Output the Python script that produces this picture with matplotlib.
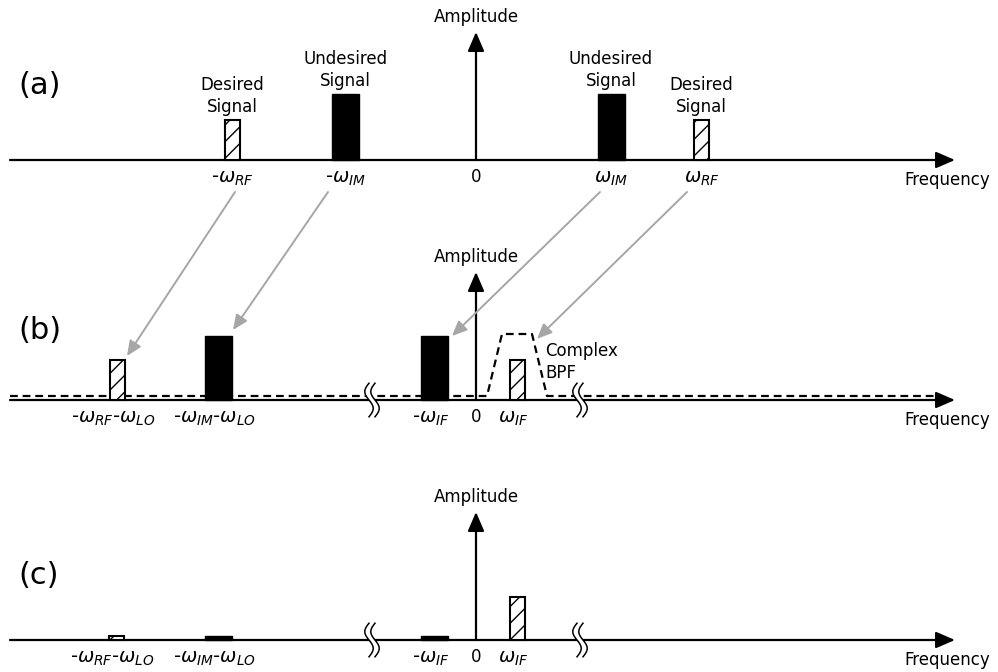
import numpy as np
import matplotlib.pyplot as plt
from matplotlib.patches import ConnectionPatch

plt.rcParams['font.family'] = ['DejaVu Sans']
plt.rcParams['mathtext.fontset'] = 'dejavusans'
plt.rcParams['hatch.linewidth'] = 1.0

# ---- spectrum data (frequency in arbitrary units, amplitude relative to desired signal) ----
# (a) RF input spectrum
a_freq = [-24.35, -13.05, 13.5, 22.55]
a_amp = [1.0, 1.65, 1.65, 1.0]
a_kind = ['desired', 'image', 'image', 'desired']
a_labels = ['-$\\omega_{RF}$', '-$\\omega_{IM}$', '$\\omega_{IM}$', '$\\omega_{RF}$']

# (b) after complex down-conversion
b_freq = [-35.9, -25.75, -4.15, 4.1]
b_amp = [1.0, 1.6, 1.6, 1.0]
b_kind = ['desired', 'image', 'image', 'desired']
b_labels = ['-$\\omega_{RF}$-$\\omega_{LO}$', '-$\\omega_{IM}$-$\\omega_{LO}$',
            '-$\\omega_{IF}$', '$\\omega_{IF}$']

# complex band-pass filter response
bpf_freq = [-46.6, 1.1, 2.6, 5.6, 7.1, 46.1]
bpf_gain = [0.1, 0.1, 1.65, 1.65, 0.1, 0.1]

# (c) after complex band-pass filtering
c_freq = [-36.0, -25.8, -4.15, 4.15]
c_amp = [0.1, 0.1, 0.1, 1.08]
c_kind = ['desired', 'image', 'image', 'desired']
c_labels = b_labels

# axis breaks
break_freq = [-10.4, 10.4]

W, H = 998, 672
fig = plt.figure(figsize=(W / 100, H / 100), dpi=100)

XPX, YPX = 10.0, 40.0     # pixels per frequency unit / amplitude unit
X0 = 476                  # pixel column of zero frequency


def panel(top, bottom, base):
    ax = fig.add_axes([0, 1 - bottom / H, 1, (bottom - top) / H])
    ax.set_xlim(-X0 / XPX, (W - X0) / XPX)
    ax.set_ylim((base - bottom) / YPX, (base - top) / YPX)
    ax.axis('off')
    return ax


ax_a = panel(0, 215, 160)
ax_b = panel(215, 455, 400)
ax_c = panel(455, 672, 640)

bar_style = {
    'desired': dict(width=1.5, color='white', edgecolor='black', hatch='//', linewidth=1.5),
    'image': dict(width=2.7, color='black', edgecolor='black', linewidth=1.0),
}

axis_kw = dict(arrowstyle='-|>,head_length=0.58,head_width=0.25',
               color='black', lw=1.6, shrinkA=0, shrinkB=0, mutation_scale=20)


def draw_axes(ax, amp_top, tag, tag_y):
    ax.annotate('', xy=(47.9, 0), xytext=(-46.6, 0), arrowprops=axis_kw, zorder=2)
    ax.annotate('', xy=(0, amp_top), xytext=(0, 0), arrowprops=axis_kw, zorder=2)
    ax.text(0, amp_top + 0.38, 'Amplitude', ha='center', va='center', fontsize=12)
    ax.text(51.4, -0.5, 'Frequency', ha='right', va='center', fontsize=12)
    ax.text(0, -0.42, '0', ha='center', va='center', fontsize=12)
    ax.text(-45.8, tag_y, tag, ha='left', va='center', fontsize=22)


def draw_bars(ax, freq, amp, kind, labels, label_y, label_dx=0.0):
    for f, h, k, lab in zip(freq, amp, kind, labels):
        ax.bar(f, h, bottom=0, zorder=5, **bar_style[k])
        ax.text(f + label_dx, label_y, lab, ha='center', va='center', fontsize=14)


def draw_break(ax, f):
    y = np.linspace(-0.42, 0.42, 80)
    dx = 0.42 * np.sin(2 * np.pi * (y - y[0]) / (y[-1] - y[0]))
    xl = f - 0.3 + dx
    xr = f + 0.3 + dx
    ax.fill_betweenx(y, xl, xr, color='white', zorder=6, lw=0)
    ax.plot(xl, y, color='black', lw=1.1, zorder=7)
    ax.plot(xr, y, color='black', lw=1.1, zorder=7)


# (a)
draw_axes(ax_a, 3.2, '(a)', 1.85)
draw_bars(ax_a, a_freq, a_amp, a_kind, a_labels, -0.45)
for f, h, k in zip(a_freq, a_amp, a_kind):
    txt = 'Desired\nSignal' if k == 'desired' else 'Undesired\nSignal'
    ax_a.text(f, h + 0.1, txt, ha='center', va='bottom', fontsize=12, linespacing=1.3)

# (b)
draw_axes(ax_b, 3.2, '(b)', 1.75)
draw_bars(ax_b, b_freq, b_amp, b_kind, b_labels, -0.47, label_dx=-0.4)
ax_b.plot(bpf_freq, bpf_gain, color='black', lw=1.6, dashes=(3.5, 2.2), zorder=3)
ax_b.text(6.9, 0.96, 'Complex\nBPF', ha='left', va='center', fontsize=12, linespacing=1.3)
for f in break_freq:
    draw_break(ax_b, f)

# (c)
draw_axes(ax_c, 3.2, '(c)', 1.62)
draw_bars(ax_c, c_freq, c_amp, c_kind, c_labels, -0.47, label_dx=-0.4)
for f in break_freq:
    draw_break(ax_c, f)

# frequency translation arrows from (a) to (b)
arrow_kw = dict(arrowstyle='-|>,head_length=0.5,head_width=0.22', mutation_scale=18,
                color='#a6a6a6', lw=1.4, shrinkA=0, shrinkB=0, zorder=8)
ends = [
    (a_freq[0] + 0.25, b_freq[0] + 1.0, b_amp[0] + 0.1),
    (a_freq[1] - 1.75, b_freq[1] + 1.45, b_amp[1] + 0.15),
    (a_freq[2] - 1.1, b_freq[2] + 1.75, b_amp[2]),
    (a_freq[3] - 1.45, bpf_freq[3] + 0.5, bpf_gain[3] - 0.12),
]
for xa, xb, yb in ends:
    con = ConnectionPatch(xyA=(xa, -0.8), coordsA=ax_a.transData,
                          xyB=(xb, yb), coordsB=ax_b.transData, **arrow_kw)
    fig.add_artist(con)

fig.savefig('out.png', dpi=100)
